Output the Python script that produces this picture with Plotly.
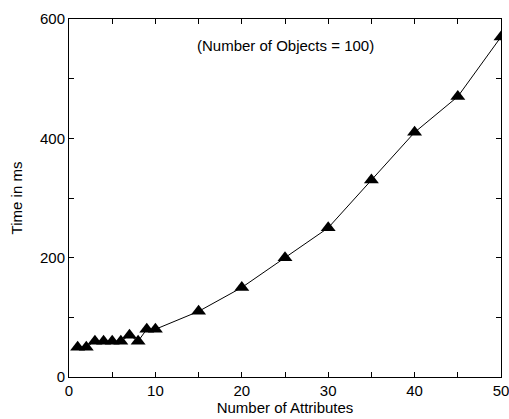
import plotly.graph_objects as go

attributes = [1, 2, 3, 4, 5, 6, 7, 8, 9, 10, 15, 20, 25, 30, 35, 40, 45, 50]
time_ms = [50, 50, 60, 60, 60, 60, 70, 60, 80, 80, 110, 150, 200, 250, 330, 410, 470, 570]
x_ticks = list(range(0, 55, 5))
x_labels = [str(v) if v % 10 == 0 else "" for v in x_ticks]
y_ticks = list(range(0, 700, 100))
y_labels = [str(v) if v % 200 == 0 else "" for v in y_ticks]

font = dict(family="Liberation Sans, Arial, sans-serif", size=15, color="black")

fig = go.Figure()
fig.add_trace(go.Scatter(
    x=attributes, y=time_ms, mode="lines+markers",
    line=dict(color="black", width=1),
    marker=dict(symbol="triangle-up", size=13, color="black"),
    showlegend=False,
))
axis_common = dict(
    showgrid=False, zeroline=False, showline=True, linecolor="black", linewidth=1,
    mirror="ticks", ticks="inside", ticklen=5, tickcolor="black", tickfont=font,
    automargin=False, ticklabeloverflow="allow",
)
fig.update_xaxes(range=[0, 50], tickvals=x_ticks, ticktext=x_labels,
                 title=dict(text="Number of Attributes", font=font, standoff=2), **axis_common)
fig.update_yaxes(range=[0, 600], tickvals=y_ticks, ticktext=y_labels,
                 title=dict(text="Time in ms", font=font, standoff=13), **axis_common)
fig.update_layout(
    width=509, height=419,
    margin=dict(l=69, r=8, t=19, b=42),
    plot_bgcolor="white", paper_bgcolor="white", font=font,
)
fig.add_annotation(x=25, y=555, xref="x", yref="y", text="(Number of Objects = 100)",
                   showarrow=False, font=font)
fig.write_html("out.html")
